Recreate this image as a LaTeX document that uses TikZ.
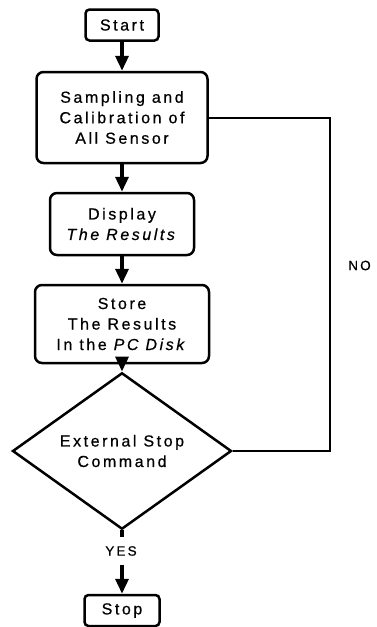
\documentclass[tikz,border=0pt]{standalone}
\usepackage{fontspec}
\setmainfont{Liberation Sans}[LetterSpace=16, FakeBold=0.6]
\usetikzlibrary{shapes.geometric, arrows.meta, positioning}

\begin{document}
\begin{tikzpicture}[x=1pt, y=-1pt,
    font=\fontsize{16}{20.5}\selectfont,
    box/.style={draw, line width=2.5pt, rounded corners=7pt, align=center, inner sep=0pt},
    flow/.style={-{Triangle[width=13pt, length=15pt]}, line width=3.5pt},
    back/.style={line width=2pt},
    tag/.style={font=\fontsize{13.5}{15}\selectfont, inner sep=0pt}]
    \useasboundingbox (0,0) rectangle (376,627);

    % Boxes
    \node[box, rounded corners=4pt, minimum width=73pt, minimum height=31pt] (start) at (122,25) {Start};
    \node[box, minimum width=171pt, minimum height=91pt] (sampling) at (122,117.5) {Sampling and\\Calibration of\\All Sensor};
    \node[box, minimum width=144pt, minimum height=62pt] (display) at (122,224) {Display\\\textit{The Results}};
    \node[box, minimum width=174pt, minimum height=78pt] (store) at (122,324) {Store\\The Results\\In the \textit{PC Disk}};
    \node[draw, diamond, line width=2.5pt, minimum width=219pt, minimum height=112pt, inner sep=0pt, align=center] (decide) at (122,451) {External Stop\\Command};
    \node[box, rounded corners=4pt, minimum width=75pt, minimum height=31pt] (stop) at (122,610.5) {Stop};

    % Labels
    \node[tag, minimum height=27pt] (yes) at (121,551) {YES};
    \node[tag] (no) at (359.5,265.5) {NO};

    % Arrows
    \draw[flow] (start) -- (sampling);
    \draw[flow] (sampling) -- (display);
    \draw[flow] (display) -- (store);
    \draw[flow] (store) -- (decide);
    \draw[line width=3.5pt] (decide.south) -- (yes.north -| decide.south);
    \draw[flow] (yes.south -| stop.north) -- (stop.north);

    % Loop back
    \coordinate (corner) at (330,451);
    \draw[back] (decide.east) -- (corner) |- (sampling.east);
\end{tikzpicture}
\end{document}
